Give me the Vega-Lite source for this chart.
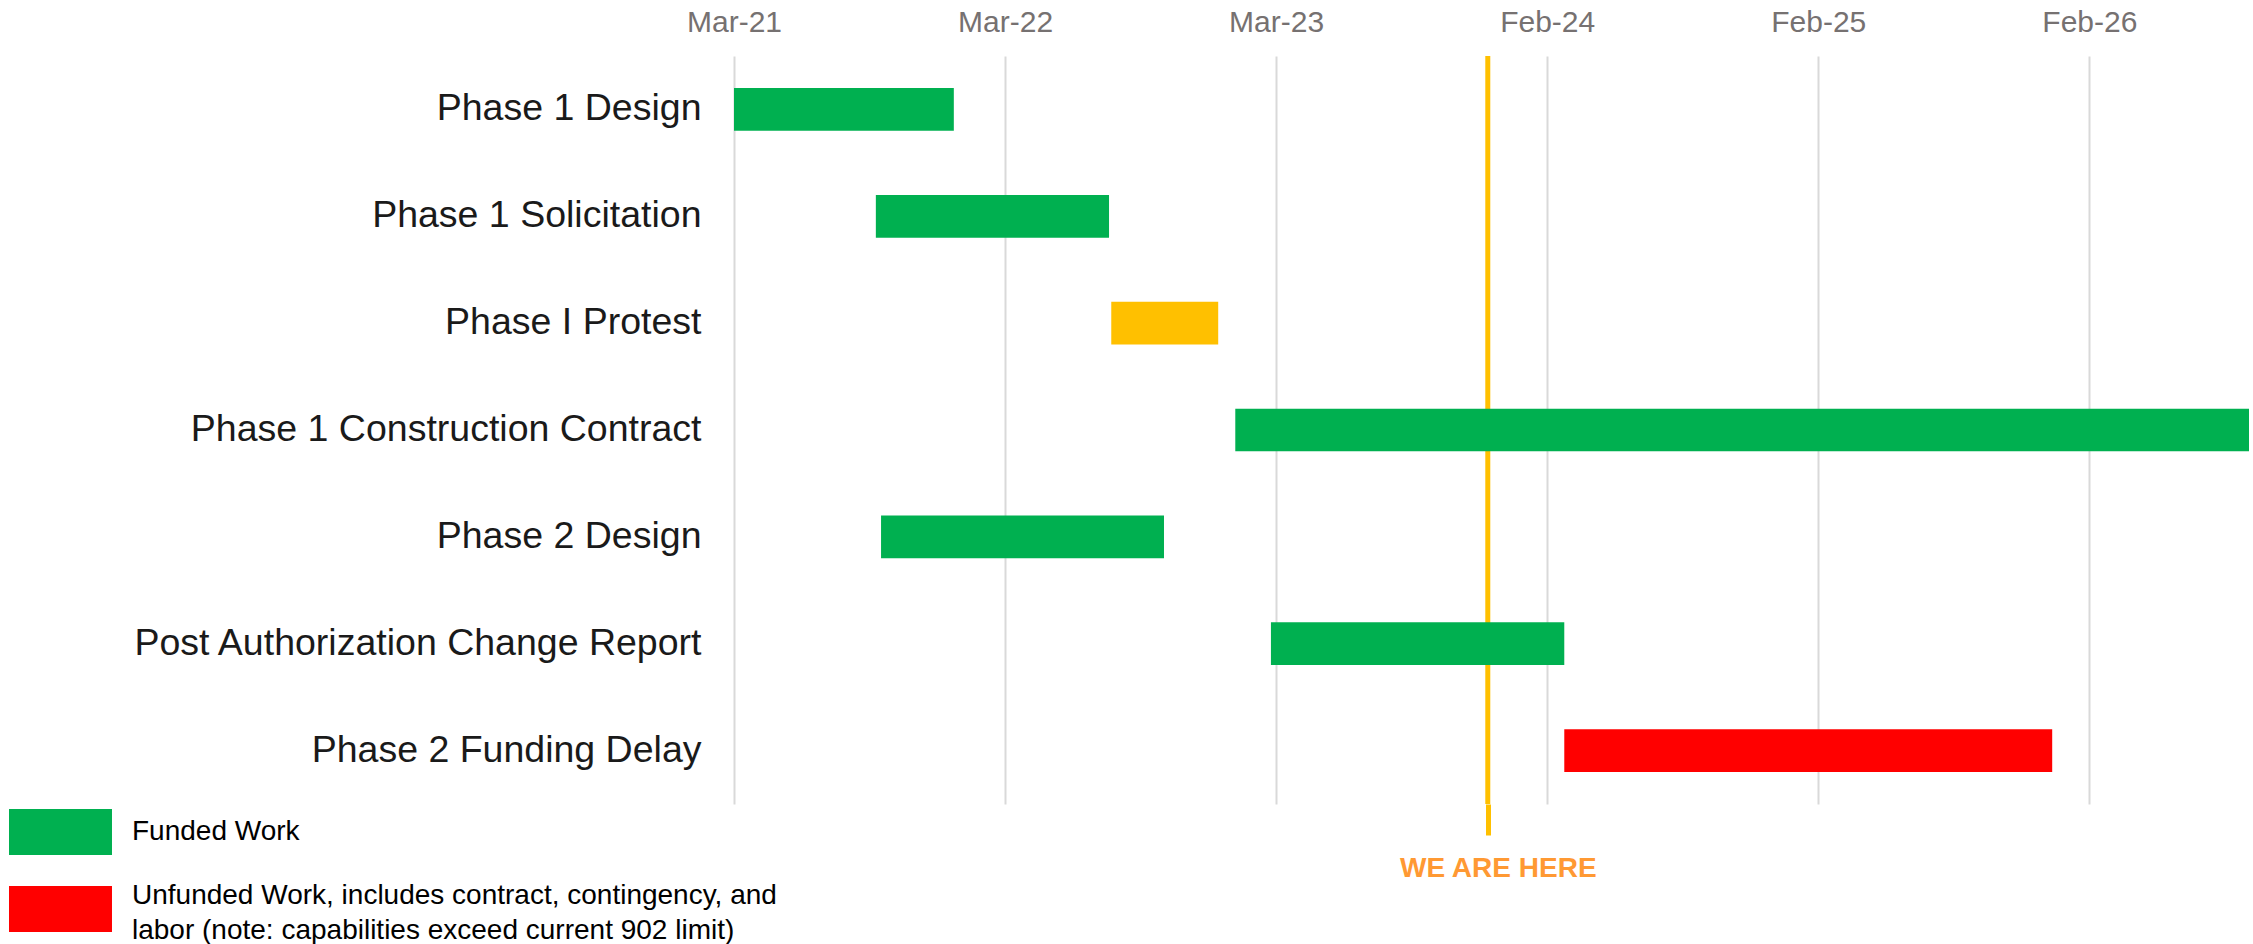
{
  "$schema": "https://vega.github.io/schema/vega-lite/v6.json",
  "width": 1515,
  "height": 748,
  "autosize": {"type": "none"},
  "padding": {"left": 734, "top": 56, "right": 4, "bottom": 140},
  "background": "white",
  "config": {"view": {"stroke": null}, "font": "Liberation Sans"},
  "datasets": {
    "tasks": [
      {"task": "Phase 1 Design", "start": "2021-03-01", "end": "2021-12-22", "status": "Funded Work"},
      {"task": "Phase 1 Solicitation", "start": "2021-09-08", "end": "2022-07-19", "status": "Funded Work"},
      {"task": "Phase I Protest", "start": "2022-07-22", "end": "2022-12-13", "status": "Protest"},
      {"task": "Phase 1 Construction Contract", "start": "2023-01-05", "end": "2026-10-01", "status": "Funded Work"},
      {"task": "Phase 2 Design", "start": "2021-09-15", "end": "2022-10-01", "status": "Funded Work"},
      {"task": "Post Authorization Change Report", "start": "2023-02-22", "end": "2024-03-23", "status": "Funded Work"},
      {"task": "Phase 2 Funding Delay", "start": "2024-03-23", "end": "2026-01-09", "status": "Unfunded Work, includes contract, contingency, and labor (note: capabilities exceed current 902 limit)"}
    ],
    "marker": [
      {"event": "WE ARE HERE", "date": "2023-12-11"}
    ]
  },
  "layer": [
    {
      "data": {"name": "marker"},
      "mark": {"type": "rule", "color": "#FFC000", "strokeWidth": 5},
      "encoding": {
        "x": {
          "field": "date",
          "type": "temporal",
          "scale": {"type": "utc", "domain": [{"year": 2021, "month": 3, "date": 1, "utc": true}, {"year": 2026, "month": 10, "date": 1, "utc": true}]},
          "axis": {
            "orient": "bottom",
            "title": null,
            "values": [{"year": 2023, "month": 12, "date": 11, "utc": true}],
            "labelExpr": "'WE ARE HERE'",
            "grid": false,
            "domain": false,
            "ticks": true,
            "tickSize": 31,
            "tickWidth": 5,
            "tickColor": "#FFC000",
            "labelPadding": 19,
            "labelFont": "Liberation Sans",
            "labelFontSize": 28,
            "labelFontWeight": "bold",
            "labelColor": "#FF9933",
            "labelOffset": 10,
            "labelLimit": 1000,
            "labelFlush": false,
            "labelOverlap": false
          }
        }
      }
    },
    {
      "data": {"name": "tasks"},
      "mark": {"type": "bar"},
      "encoding": {
        "y": {
          "field": "task",
          "type": "nominal",
          "sort": null,
          "scale": {"paddingInner": 0.6, "paddingOuter": 0.3},
          "axis": {
            "title": null,
            "domain": false,
            "ticks": false,
            "grid": false,
            "labelPadding": 33,
            "labelFont": "Liberation Sans",
            "labelFontSize": 37.5,
            "labelColor": "#1a1a1a",
            "labelLimit": 800
          }
        },
        "x": {
          "field": "start",
          "type": "temporal",
          "scale": {"type": "utc", "domain": [{"year": 2021, "month": 3, "date": 1, "utc": true}, {"year": 2026, "month": 10, "date": 1, "utc": true}]},
          "axis": {
            "orient": "top",
            "title": null,
            "values": [
              {"year": 2021, "month": 3, "date": 1, "utc": true},
              {"year": 2022, "month": 3, "date": 1, "utc": true},
              {"year": 2023, "month": 3, "date": 1, "utc": true},
              {"year": 2024, "month": 2, "date": 29, "utc": true},
              {"year": 2025, "month": 2, "date": 28, "utc": true},
              {"year": 2026, "month": 2, "date": 28, "utc": true}
            ],
            "format": "%b-%y",
            "grid": true,
            "gridColor": "#D9D9D9",
            "gridWidth": 2,
            "domain": false,
            "ticks": false,
            "labelPadding": 19,
            "labelFont": "Liberation Sans",
            "labelFontSize": 30,
            "labelColor": "#767171",
            "labelFlush": false,
            "labelOverlap": false
          }
        },
        "x2": {"field": "end"},
        "color": {
          "field": "status",
          "type": "nominal",
          "scale": {
            "domain": ["Funded Work", "Unfunded Work, includes contract, contingency, and labor (note: capabilities exceed current 902 limit)", "Protest"],
            "range": ["#00B050", "#FF0000", "#FFC000"]
          },
          "legend": {
            "orient": "none",
            "direction": "vertical",
            "legendX": -725,
            "legendY": 753,
            "title": null,
            "padding": 0,
            "values": ["Funded Work", "Unfunded Work, includes contract, contingency, and labor (note: capabilities exceed current 902 limit)"],
            "symbolType": "M-1,-1H3.478V1H-1Z",
            "symbolSize": 2116,
            "symbolStrokeWidth": 0,
            "symbolOpacity": 1,
            "labelFont": "Liberation Sans",
            "labelFontSize": 28,
            "labelColor": "#000000",
            "labelLimit": 1200,
            "labelOffset": 77,
            "rowPadding": 27,
            "labelExpr": "length(datum.label) > 40 ? [substring(datum.label, 0, 50), substring(datum.label, 51)] : datum.label",
            "encode": {
              "labels": {
                "update": {
                  "lineHeight": {"value": 35},
                  "dy": {"signal": "length(datum.label) > 40 ? -13 : 0"}
                }
              }
            }
          }
        }
      }
    }
  ],
  "resolve": {"axis": {"x": "independent"}}
}
